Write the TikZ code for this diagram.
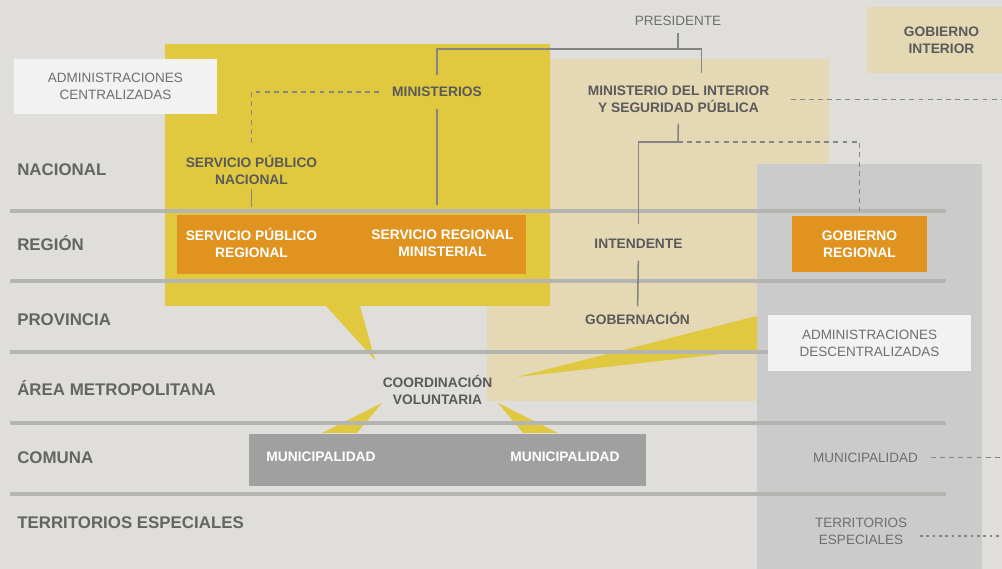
\documentclass[tikz,border=0pt]{standalone}
\usepackage{fontspec}
\setmainfont{Liberation Sans}
\usetikzlibrary{calc}

\definecolor{bggrey}{HTML}{DFDEDA}
\definecolor{yellowfill}{HTML}{E0C83F}
\definecolor{beigefill}{HTML}{E4D8B5}
\definecolor{panelgrey}{HTML}{CBCBCB}
\definecolor{orangefill}{HTML}{E0931F}
\definecolor{comunagrey}{HTML}{A0A0A0}
\definecolor{boxwhite}{HTML}{F2F2F2}
\definecolor{rulegrey}{HTML}{B4B4B1}
\definecolor{conngrey}{HTML}{858585}
\definecolor{labelgrey}{HTML}{646464}
\definecolor{darktext}{HTML}{5A5A5A}
\definecolor{plaintext}{HTML}{6E6E6E}

\begin{document}
\begin{tikzpicture}[x=0.025cm, y=-0.025cm,
    rowlabel/.style={anchor=west, inner sep=0, text=labelgrey,
        font=\fontsize{12}{14}\selectfont\bfseries, text height=8.6pt, text depth=0pt},
    boldlabel/.style={inner sep=0, align=center, text=darktext,
        font=\fontsize{9.8}{12}\selectfont\bfseries},
    plainlabel/.style={inner sep=0, align=center, text=plaintext,
        font=\fontsize{9.6}{12}\selectfont},
    whitelabel/.style={boldlabel, text=white},
    oneline/.style={text height=7pt, text depth=0pt},
    conn/.style={draw=conngrey, line width=1.1pt},
    dashconn/.style={draw=conngrey, line width=1pt, dash pattern=on 3.5pt off 3pt},
    dotconn/.style={draw=conngrey, line width=0.8pt, dash pattern=on 2pt off 2.5pt},
    levelrule/.style={draw=rulegrey, line width=2.5pt}]

    \useasboundingbox (0, 0) rectangle (1002, 569);
    \fill[bggrey] (0, 0) rectangle (1002, 569);
    \coordinate (page east) at (1002, 0);

    % Panels
    \fill[beigefill] (487, 59) rectangle (829, 401);
    \fill[yellowfill] (165, 44) rectangle (550, 306);
    \fill[panelgrey] (757, 164) rectangle (982, 569);

    \fill[yellowfill] (326, 306) -- (375, 360) -- (360, 306) -- cycle;
    \fill[yellowfill] (757, 316) -- (517, 377) -- (757, 350) -- cycle;
    \fill[yellowfill] (382, 403) -- (322, 433) -- (357, 433) -- cycle;
    \fill[yellowfill] (498, 403) -- (523, 433) -- (558, 433) -- cycle;

    \foreach \y in {211, 281, 352, 423, 494}
        \draw[levelrule] (10, \y) -- (946, \y);

    % Levels
    \node (nacional) at (17, 169) [rowlabel] {NACIONAL};
    \node (region) at (17, 244) [rowlabel] {REGIÓN};
    \node (provincia) at (17, 319) [rowlabel] {PROVINCIA};
    \node (metropolitana) at (17, 389) [rowlabel] {ÁREA METROPOLITANA};
    \node (comuna) at (17, 457) [rowlabel] {COMUNA};
    \node (territoriales) at (17, 522) [rowlabel] {TERRITORIOS ESPECIALES};

    % Boxes
    \node (admcentral) at (115.5, 86.5)
        [plainlabel, fill=boxwhite, minimum width=5.075cm, minimum height=1.375cm]
        {ADMINISTRACIONES\\CENTRALIZADAS};
    \node (gobinterior) at (941.5, 40)
        [boldlabel, fill=beigefill, minimum width=3.725cm, minimum height=1.65cm]
        {GOBIERNO\\INTERIOR};
    \node (regbox) at (351.5, 244.5)
        [fill=orangefill, minimum width=8.725cm, minimum height=1.475cm] {};
    \node (gobregional) at (859.5, 244)
        [whitelabel, fill=orangefill, minimum width=3.375cm, minimum height=1.4cm]
        {GOBIERNO\\REGIONAL};
    \node (admdescentral) at (869.5, 343)
        [plainlabel, fill=boxwhite, minimum width=5.075cm, minimum height=1.4cm]
        {ADMINISTRACIONES\\DESCENTRALIZADAS};
    \node (comunabox) at (447.5, 460)
        [fill=comunagrey, minimum width=9.925cm, minimum height=1.3cm] {};

    % Labels
    \node (presidente) at (678, 20.5) [plainlabel, oneline] {PRESIDENTE};
    \node (ministerios) at (437, 92) [boldlabel, oneline] {MINISTERIOS};
    \node (mininterior) at (678.5, 99.5) [boldlabel]
        {MINISTERIO DEL INTERIOR\\Y SEGURIDAD PÚBLICA};
    \node (spnacional) at (251.5, 170) [boldlabel] {SERVICIO PÚBLICO\\NACIONAL};
    \node (spregional) at (251.5, 243) [whitelabel] {SERVICIO PÚBLICO\\REGIONAL};
    \node (srministerial) at (442.5, 243) [whitelabel] {SERVICIO REGIONAL\\MINISTERIAL};
    \node (intendente) at (638.5, 243.5) [boldlabel, oneline] {INTENDENTE};
    \node (gobernacion) at (637.5, 320) [boldlabel, oneline] {GOBERNACIÓN};
    \node (coordinacion) at (437.5, 390) [boldlabel] {COORDINACIÓN\\VOLUNTARIA};
    \node (municipio a) at (321, 457) [whitelabel, oneline] {MUNICIPALIDAD};
    \node (municipio b) at (565, 457) [whitelabel, oneline] {MUNICIPALIDAD};
    \node (munipanel) at (865.5, 457.5) [plainlabel, oneline] {MUNICIPALIDAD};
    \node (territorios) at (861, 531) [plainlabel] {TERRITORIOS\\ESPECIALES};

    % Connectors
    \coordinate (pres bar) at (678, 49);
    \draw[conn, shorten <=5pt] (presidente.south) -- (pres bar);
    \draw[conn, shorten >=8.5pt] (pres bar) -| (ministerios.north);
    \draw[conn, shorten >=9pt] (pres bar) -| ($(mininterior.north)+(23, 0)$);
    \draw[conn, shorten <=8.5pt, shorten >=7pt]
        (ministerios.south) -- (ministerios.south |- regbox.north);
    \draw[dashconn, shorten <=9pt, shorten >=7pt] (ministerios.west) -| (spnacional.north);
    \draw[conn, shorten <=3pt, shorten >=5.5pt]
        (spnacional.south) -- (spnacional.south |- regbox.north);

    \coordinate (int bar) at (678, 142);
    \draw[conn, shorten <=7.5pt] (mininterior.south) -- (int bar);
    \draw[conn, shorten >=10.5pt] (int bar) -| (intendente.north);
    \draw[dashconn, shorten >=3.5pt] (int bar) -| (gobregional.north);
    \draw[conn, shorten <=8.5pt, shorten >=6pt] (intendente.south) -- (gobernacion.north);
    \draw[dashconn, shorten <=15pt] (mininterior.east) -- (mininterior.east -| page east);

    \draw[dashconn, shorten <=9pt] (munipanel.east) -- (munipanel.east -| page east);
    \draw[dotconn, shorten <=9pt]
        ($(territorios.east)+(0, 5)$) -- ($(territorios.east -| page east)+(0, 5)$);
\end{tikzpicture}
\end{document}
